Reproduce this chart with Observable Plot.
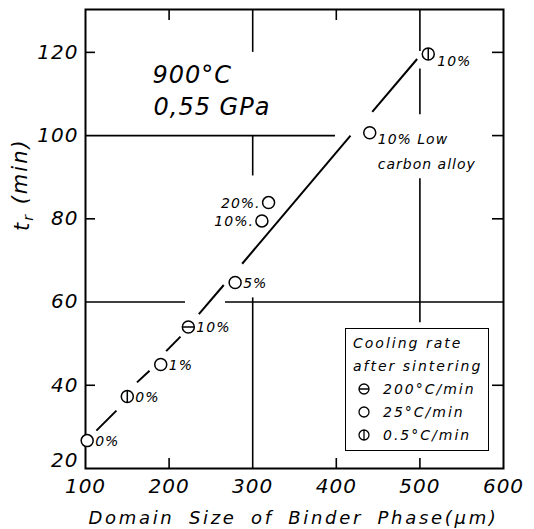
<!DOCTYPE html>
<html><head><meta charset="utf-8">
<script src="https://cdn.jsdelivr.net/npm/d3@7"></script>
<script src="https://cdn.jsdelivr.net/npm/@observablehq/plot@0.6"></script>
<style>
body{margin:0;background:#fff;}
#wrap{position:relative;width:534px;height:529px;}
#legend{position:absolute;left:345px;top:328px;width:142px;height:121px;border:1px solid #000;background:#fff;
 font-family:"DejaVu Sans";font-style:oblique;font-size:14px;letter-spacing:2px;color:#000;}
#legend .row{position:absolute;left:7px;white-space:nowrap;line-height:16px;}
#legend svg{position:absolute;}
</style></head>
<body><div id="wrap"></div>
<script>
// ---- data ----
const xTicks = [100, 200, 300, 400, 500, 600];
const yTicks = [20, 40, 60, 80, 100, 120];
const coolingRates = ["200", "25", "0.5"];           // °C/min
const coolingLabels = ["200°C/min", "25°C/min", "0.5°C/min"];
const pointX = [102, 150, 190, 223, 279, 319, 311, 440, 510];
const pointY = [26.7, 37.3, 45, 54, 64.7, 83.9, 79.5, 100.7, 119.6];
const pointRate = ["25", "0.5", "25", "200", "25", "25", "25", "25", "0.5"];
const pointLabel = ["0%", "0%", "1%", "10%", "5%", "20%.", "10%.", "10% Low\ncarbon alloy", "10%"];
// trend line pieces (drawn between markers)
const lineX1 = [113, 161.6, 196.5, 235.6, 287.4, 443];
const lineY1 = [29.1, 40.7, 48.2, 57.1, 69.2, 105.7];
const lineX2 = [137, 176.6, 213.6, 265.4, 417, 496.7];
const lineY2 = [33.9, 43.5, 51.7, 64.1, 100, 118.4];
// grid lines (broken where the original breaks them)
const vGridX  = [300, 300, 300, 500, 500, 500, 500];
const vGridY1 = [120, 90.3, 20, 120.2, 105, 55, 20];
const vGridY2 = [130.3, 100, 61, 130.3, 116, 89.6, 22.4];
const hGridY  = [100, 60, 60];
const hGridX1 = [100, 100, 267.5];
const hGridX2 = [399, 219.6, 600];
// minor inward ticks
const leftTicks = [120, 80, 40];
const rightTicks = [120, 100, 80, 40];
const bottomTicks = [200, 400];
const topTicks = [200, 400];

const points = pointX.map((x, i) => ({x, y: pointY[i], rate: pointRate[i], label: pointLabel[i]}));
const lineSegs = lineX1.map((x1, i) => ({x1, y1: lineY1[i], x2: lineX2[i], y2: lineY2[i]}));
const vGrid = vGridX.map((x, i) => ({x, y1: vGridY1[i], y2: vGridY2[i]}));
const hGrid = hGridY.map((y, i) => ({y, x1: hGridX1[i], x2: hGridX2[i]}));

// symbols
const symCircle = {draw(c, s){const r=Math.sqrt(s/Math.PI); c.moveTo(r,0); c.arc(0,0,r,0,2*Math.PI);}};
const symTheta = {draw(c, s){const r=Math.sqrt(s/Math.PI); c.moveTo(r,0); c.arc(0,0,r,0,2*Math.PI); c.moveTo(-r,0); c.lineTo(r,0);}};
const symPhi = {draw(c, s){const r=Math.sqrt(s/Math.PI); c.moveTo(r,0); c.arc(0,0,r,0,2*Math.PI); c.moveTo(0,-r); c.lineTo(0,r);}};
const symFor = {"200": symTheta, "25": symCircle, "0.5": symPhi};

const W = 534, H = 529, mL = 85, mR = 31, mT = 9, mB = 61;
const fw = W - mL - mR, fh = H - mT - mB;
const font = "DejaVu Sans";
const leftLabelIdx = [5, 6];
const subLabelIdx = [8];

const chart = Plot.plot({
  width: W, height: H,
  marginLeft: mL, marginRight: mR, marginTop: mT, marginBottom: mB,
  style: {fontFamily: font, background: "#fff", color: "#000"},
  x: {domain: [100, 600], axis: null},
  y: {domain: [20, 130.3], axis: null},
  marks: [
    // grid
    Plot.ruleX(vGrid, {x: "x", y1: "y1", y2: "y2", stroke: "#000", strokeWidth: 1.6}),
    Plot.ruleY(hGrid, {y: "y", x1: "x1", x2: "x2", stroke: "#000", strokeWidth: 1.6}),
    // inward ticks
    Plot.tickY(leftTicks, {y: d => d, insetRight: fw - 10, stroke: "#000", strokeWidth: 1.6}),
    Plot.tickY(rightTicks, {y: d => d, insetLeft: fw - 11, stroke: "#000", strokeWidth: 1.6}),
    Plot.tickX(bottomTicks, {x: d => d, insetTop: fh - 10, stroke: "#000", strokeWidth: 1.6}),
    Plot.tickX(topTicks, {x: d => d, insetBottom: fh - 11, stroke: "#000", strokeWidth: 1.6}),
    Plot.frame({stroke: "#000", strokeWidth: 2}),
    // trend line
    Plot.link(lineSegs, {x1: "x1", y1: "y1", x2: "x2", y2: "y2", stroke: "#000", strokeWidth: 2}),
    // points
    ...coolingRates.map(rate => Plot.dot(points.filter(p => p.rate === rate),
      {x: "x", y: "y", r: 6, symbol: symFor[rate], fill: "#fff", stroke: "#000", strokeWidth: 1.5})),
    // point labels
    Plot.text(points.filter((p, i) => !leftLabelIdx.includes(i) && !subLabelIdx.includes(i) && !p.label.includes("\n")),
      {x: "x", y: "y", text: "label", textAnchor: "start", dx: 8, dy: 1, fontSize: 14, fontStyle: "oblique", fill: "#000"}),
    Plot.text(points.filter(p => p.label.includes("\n")),
      {x: "x", y: "y", text: "label", textAnchor: "start", lineAnchor: "top", lineHeight: 1.75, dx: 8, dy: -6, fontSize: 14, fontStyle: "oblique", fill: "#000"}),
    Plot.text(points.filter((p, i) => subLabelIdx.includes(i)),
      {x: "x", y: "y", text: "label", textAnchor: "start", dx: 9, dy: 7, fontSize: 14, fontStyle: "oblique", fill: "#000"}),
    Plot.text(points.filter((p, i) => leftLabelIdx.includes(i)),
      {x: "x", y: "y", text: "label", textAnchor: "end", dx: -8, dy: 1, fontSize: 14, fontStyle: "oblique", fill: "#000"}),
    // tick labels
    Plot.text(xTicks, {x: d => d, frameAnchor: "bottom", lineAnchor: "top", dy: 10, text: d => String(d), fontSize: 20, fontStyle: "oblique", fill: "#000"}),
    Plot.text(yTicks.slice(1), {y: d => d, frameAnchor: "left", textAnchor: "end", dx: -7, text: d => String(d), fontSize: 20, fontStyle: "oblique", fill: "#000"}),
    Plot.text(yTicks.slice(0, 1), {y: d => d, frameAnchor: "left", textAnchor: "end", dx: -7, dy: -8, text: d => String(d), fontSize: 20, fontStyle: "oblique", fill: "#000"}),
    // axis titles
    Plot.text(["Domain Size of Binder Phase(μm)"], {frameAnchor: "bottom", lineAnchor: "top", dx: -1, dy: 43, text: d => d, fontSize: 18, fontStyle: "oblique", fill: "#000", className: "xtitle"}),
    Plot.text(["t_r (min)"], {frameAnchor: "left", rotate: -90, dx: -63, dy: -8, text: d => d, fontSize: 21, fontStyle: "oblique", fill: "#000", className: "ytitle"}),
    // annotations
    Plot.text(["900°C"], {frameAnchor: "top-left", textAnchor: "start", lineAnchor: "top", dx: 67, dy: 56, text: d => d, fontSize: 24, fontStyle: "oblique", fill: "#000"}),
    Plot.text(["0,55 GPa"], {frameAnchor: "top-left", textAnchor: "start", lineAnchor: "top", dx: 68, dy: 88, text: d => d, fontSize: 24, fontStyle: "oblique", fill: "#000"})
  ]
});

// letter spacing / subscript tweaks
d3.select(chart).selectAll("text").attr("letter-spacing", "1px");
d3.select(chart).selectAll(".xtitle text").attr("letter-spacing", "2.7px").attr("word-spacing", "6px");
d3.select(chart).selectAll(".ytitle text").each(function() {
  const t = d3.select(this);
  t.text(null).attr("letter-spacing", "2px");
  t.append("tspan").text("t");
  t.append("tspan").attr("font-size", 14).attr("dy", "0.3em").text("r");
  t.append("tspan").attr("dy", "-0.3em").text(" (min)");
});

const wrap = document.getElementById("wrap");
wrap.appendChild(chart);

// legend (inside the plot area, bottom right)
const legend = document.createElement("div");
legend.id = "legend";
const legendLines = ["Cooling rate", "after sintering"];
legendLines.forEach((t, i) => {
  const d = document.createElement("div");
  d.className = "row"; d.style.top = (6 + i * 23) + "px"; d.textContent = t;
  legend.appendChild(d);
});
coolingRates.forEach((rate, i) => {
  const top = 52 + i * 23;
  const s = d3.create("svg").attr("width", 14).attr("height", 14)
    .style("left", "11px").style("top", (top + 1) + "px");
  s.append("path").attr("transform", "translate(7,7)")
    .attr("d", d3.symbol().type(symFor[rate]).size(Math.PI * 25)())
    .attr("fill", "none").attr("stroke", "#000").attr("stroke-width", 1.3);
  legend.appendChild(s.node());
  const d = document.createElement("div");
  d.className = "row"; d.style.left = "37px"; d.style.top = top + "px"; d.textContent = coolingLabels[i];
  legend.appendChild(d);
});
wrap.appendChild(legend);
</script>
</body></html>
